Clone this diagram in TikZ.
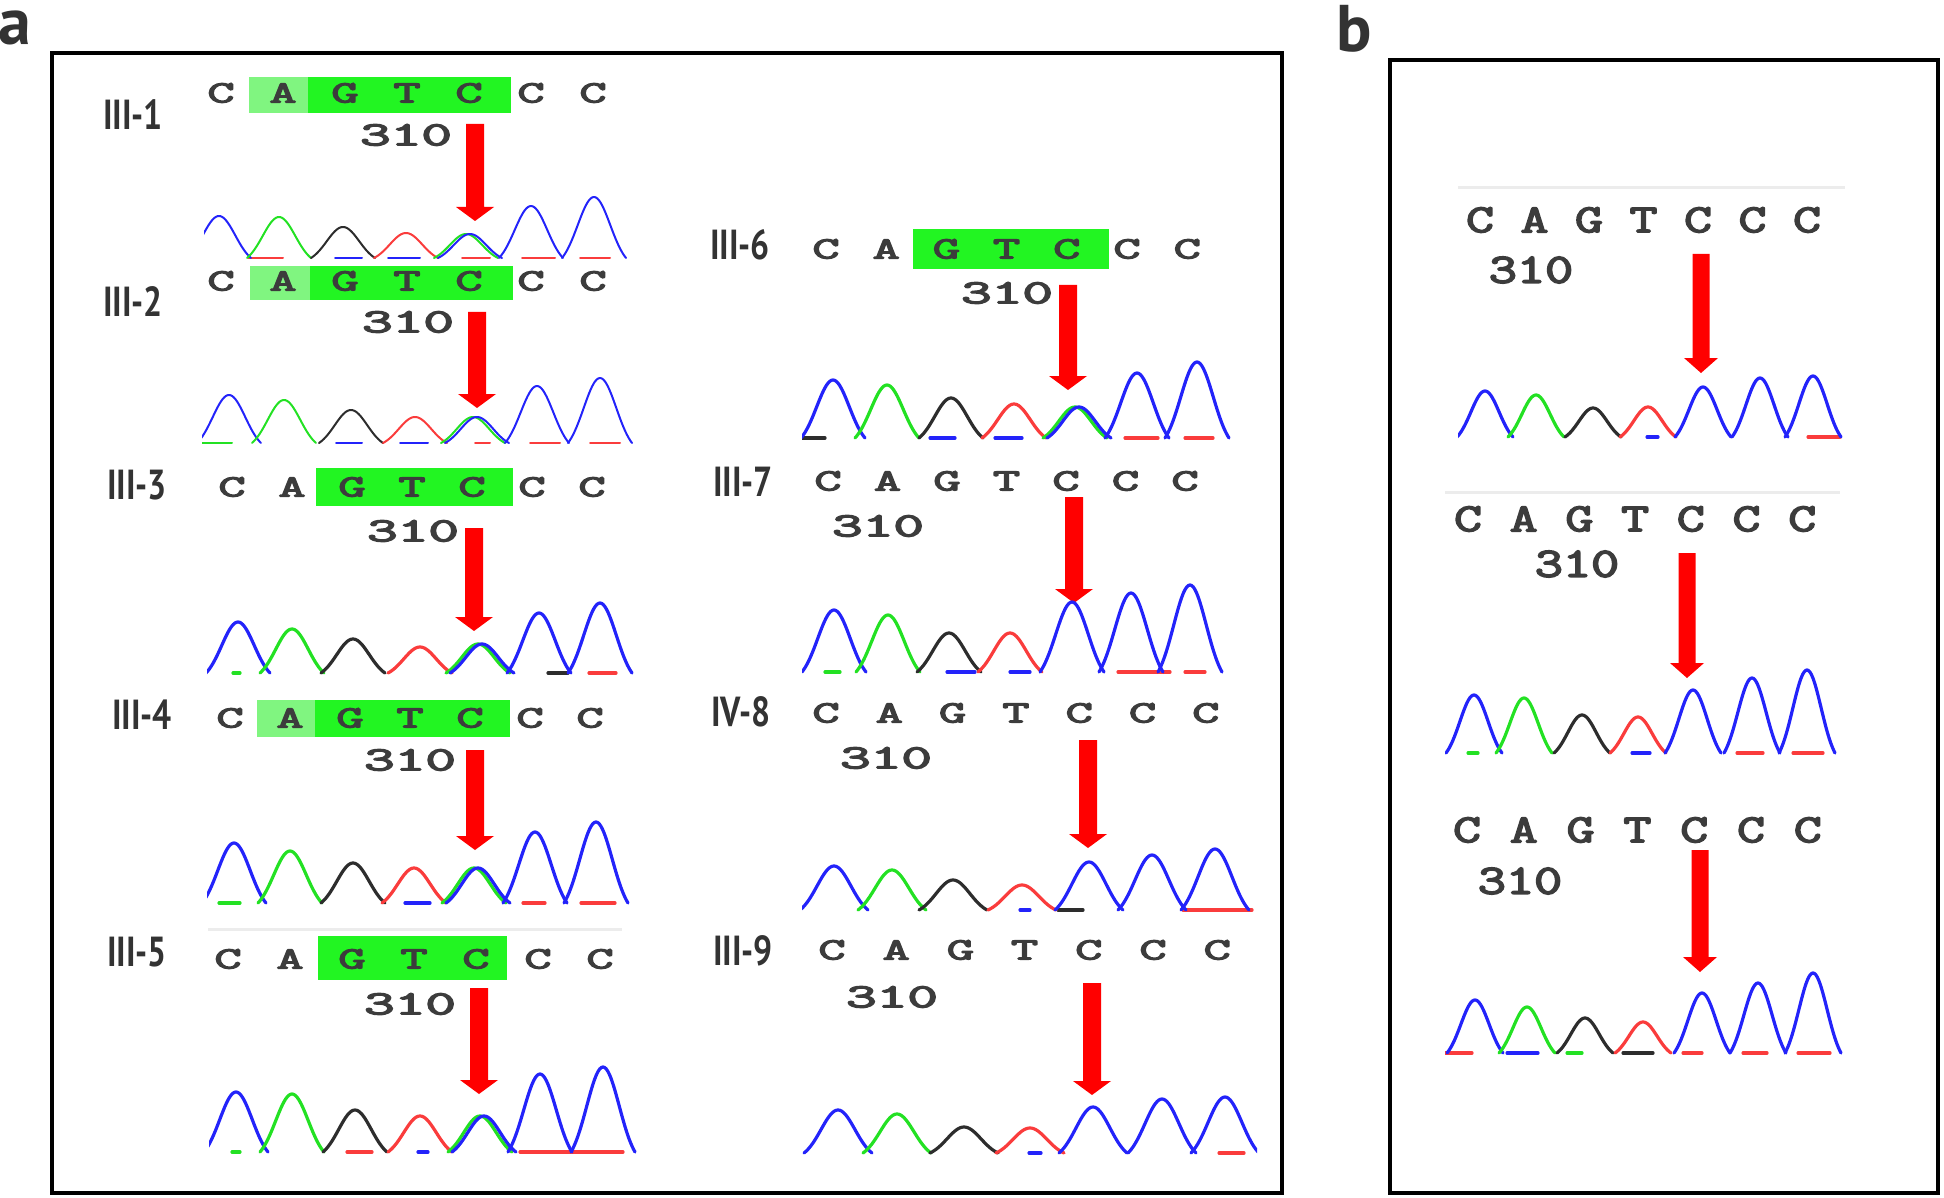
\documentclass[tikz,border=0pt]{standalone}
\usepackage{fontspec}
\newfontfamily\labfont{PT Sans}
\newfontfamily\seqfont{Latin Modern Mono}[FakeBold=3.5]

\definecolor{tblue}{RGB}{35,35,250}
\definecolor{tgreen}{RGB}{35,225,35}
\definecolor{tblack}{RGB}{45,45,45}
\definecolor{tred}{RGB}{250,60,60}
\definecolor{boxgreen}{RGB}{34,245,34}
\definecolor{boxlight}{RGB}{128,245,128}
\definecolor{seqgray}{RGB}{60,60,60}
\definecolor{labgray}{RGB}{51,51,51}

\tikzset{
  ntA/.style={inner sep=0pt, text=seqgray, font=\seqfont\fontsize{31}{31}\selectfont, xscale=1.7},
  numA/.style={inner sep=0pt, text=seqgray, font=\seqfont\fontsize{34}{34}\selectfont, xscale=1.75},
  ntB/.style={inner sep=0pt, text=seqgray, font=\seqfont\fontsize{40}{40}\selectfont, xscale=1.35},
  numB/.style={inner sep=0pt, text=seqgray, font=\seqfont\fontsize{42}{42}\selectfont, xscale=1.3},
  sample/.style={anchor=west, inner sep=0pt, text=labgray, font=\labfont\bfseries\fontsize{42}{42}\selectfont, xscale=0.8},
  panel/.style={anchor=base west, inner sep=0pt, text=labgray, font=\labfont\bfseries\fontsize{66}{66}\selectfont},
  frame/.style={draw=black, line width=4pt},
  trace/.style={line join=round, line cap=round}
}

\begin{document}
\begin{tikzpicture}[x=1pt, y=-1pt]
\useasboundingbox (0,0) rectangle (1944,1198);

% panels
\node[panel] (pa) at (-2,45) {a};
\node[panel] (pb) at (1336,52) {b};
\draw[frame] (52,53) rectangle (1282,1193);
\draw[frame] (1390,60) rectangle (1938,1193);

% faint rules above some reads
\foreach \xa/\xb/\y in {208/622/929, 1458/1845/188, 1445/1840/492}
  \draw[gray!15, line width=3pt] (\xa,\y) -- (\xb,\y);

% highlighted bases
\foreach \xa/\ya/\xb/\yb/\col in {249/77/308/113/boxlight, 308/77/511/113/boxgreen,
    250/266/310/300/boxlight, 310/266/513/300/boxgreen,
    316/468/513/506/boxgreen,
    257/700/315/737/boxlight, 315/700/510/737/boxgreen,
    318/936/507/980/boxgreen,
    913/229/1109/269/boxgreen}
  \fill[\col] (\xa,\ya) rectangle (\xb,\yb);

% sample names
\foreach \n/\xs/\y/\lab in {s1/103/115/III-1, s2/103/302/III-2, s3/107/485/III-3,
    s4/112/715/III-4, s5/107/952/III-5, s6/710/245/III-6, s7/713/482/III-7,
    s8/711/712/IV-8, s9/713/951/III-9}
  \node[sample] (\n) at (\xs,\y) {\lab};

% sequences
\foreach \r/\xs/\dx/\y in {a1/221/62/93, a2/221/62/281, a3/232/60/487, a4/230/60/718,
    a5/228/62/959, a6/826/60.2/249, a7/828/59.5/481, a8/826/63.3/713, a9/832/64.2/950}
  \foreach \ch [count=\i] in {C,A,G,T,C,C,C}
    \node[ntA] (\r-\i) at ({\xs+\dx*(\i-1)},\y) {\ch};
\foreach \r/\xs/\dx/\y in {b1/1480/54.5/220, b2/1468/55.7/519, b3/1467/56.8/830}
  \foreach \ch [count=\i] in {C,A,G,T,C,C,C}
    \node[ntB] (\r-\i) at ({\xs+\dx*(\i-1)},\y) {\ch};

% position 310
\foreach \n/\xs/\y in {n1/406/135, n2/408/322, n3/413/531, n4/410/760, n5/410/1004,
    n6/1007/293, n7/878/526, n8/886/758, n9/892/997}
  \node[numA] (\n) at (\xs,\y) {310};
\foreach \n/\xs/\y in {nb1/1531/270, nb2/1577/564, nb3/1520/881}
  \node[numB] (\n) at (\xs,\y) {310};

% red arrows
\foreach \xs/\ya/\yb in {475/124/221, 477/312/408, 474/528/631, 475/750/850, 479/988/1094,
    1068/285/390, 1074/497/603, 1088/740/848, 1092/983/1095}
  \fill[red] (\xs-9,\ya) -- (\xs+9,\ya) -- (\xs+9,\yb-14) -- (\xs+19,\yb-14) -- (\xs,\yb)
    -- (\xs-19,\yb-14) -- (\xs-9,\yb-14) -- cycle;
\foreach \xs/\ya/\yb in {1701/254/373, 1687/553/678, 1700/850/972}
  \fill[red] (\xs-8.5,\ya) -- (\xs+8.5,\ya) -- (\xs+8.5,\yb-15) -- (\xs+17,\yb-15) -- (\xs,\yb)
    -- (\xs-17,\yb-15) -- (\xs-8.5,\yb-15) -- cycle;

% chromatograms: start/end/baseline/half width/sigma/line/peaks/baseline bits
\foreach \xa/\xb/\bs/\w/\sg/\lw/\pk/\bl in {
  204/632/258/32/23/2pt/{219/42/tblue,279/41/tgreen,343/31/tblack,406/25/tred,466/24/tgreen,470/24/tblue,531/52/tblue,594/61/tblue}/{248/283/tred,335/362/tblue,388/420/tblue,462/490/tred,522/555/tred,580/610/tred},
  202/634/443/32/23/2pt/{229/48/tblue,284/43/tgreen,351/33/tblack,415/26/tred,473/26/tgreen,477/26/tblue,537/57/tblue,600/65/tblue}/{202/232/tgreen,336/362/tblue,400/428/tblue,475/490/tred,530/560/tred,590/620/tred},
  207/638/673/32/23/3.2pt/{238/51/tblue,292/44/tgreen,353/34/tblack,420/26/tred,478/29/tgreen,482/29/tblue,539/60/tblue,600/70/tblue}/{233/240/tgreen,548/568/tblack,589/616/tred},
  207/635/903/32/23/3.2pt/{234/60/tblue,290/52/tgreen,353/40/tblack,414/35/tred,474/35/tgreen,478/35/tblue,535/71/tblue,596/81/tblue}/{219/240/tgreen,405/430/tblue,523/545/tred,581/615/tred},
  209/642/1152/32/23/3.2pt/{236/60/tblue,292/58/tgreen,355/42/tblack,420/36/tred,480/36/tgreen,484/36/tblue,540/78/tblue,603/85/tblue}/{232/240/tgreen,347/372/tred,418/428/tblue,520/623/tred},
  802/1233/438/32/23/3.2pt/{833/58/tblue,887/53/tgreen,951/40/tblack,1014/34/tred,1075/31/tgreen,1079/31/tblue,1137/65/tblue,1197/76/tblue}/{802/825/tblack,930/955/tblue,995/1022/tblue,1125/1158/tred,1185/1213/tred},
  802/1229/672/32/23/3.2pt/{834/62/tblue,888/57/tgreen,949/39/tblack,1010/39/tred,1072/70/tblue,1131/79/tblue,1190/87/tblue}/{825/840/tgreen,947/975/tblue,1010/1030/tblue,1118/1170/tred,1185/1205/tred},
  802/1256/910/34/24/3.2pt/{834/44/tblue,892/40/tgreen,953/30/tblack,1022/25/tred,1089/48/tblue,1152/55/tblue,1215/61/tblue}/{1020/1030/tblue,1058/1083/tblack,1183/1252/tred},
  802/1257/1153/34/24/3.2pt/{838/43/tblue,897/39/tgreen,964/26/tblack,1030/25/tred,1093/46/tblue,1162/54/tblue,1225/56/tblue}/{1029/1041/tblue,1219/1244/tred},
  1458/1845/437/28/20/3.2pt/{1485/46/tblue,1536/42/tgreen,1593/29/tblack,1648/30/tred,1703/50/tblue,1760/59/tblue,1813/61/tblue}/{1647/1658/tblue,1808/1840/tred},
  1445/1841/753/28/20/3.2pt/{1474/58/tblue,1524/55/tgreen,1582/38/tblack,1638/36/tred,1693/63/tblue,1752/75/tblue,1807/83/tblue}/{1468/1478/tgreen,1632/1650/tblue,1737/1763/tred,1793/1823/tred},
  1445/1852/1053/28/20/3.2pt/{1475/53/tblue,1527/46/tgreen,1585/35/tblack,1643/31/tred,1702/60/tblue,1758/70/tblue,1813/80/tblue}/{1445/1472/tred,1507/1538/tblue,1567/1582/tgreen,1623/1653/tblack,1683/1702/tred,1743/1767/tred,1798/1830/tred}}
{
  \begin{scope}
    \clip (\xa,\bs-105) rectangle (\xb,\bs+4);
    \foreach \sa/\sb/\col in \bl
      \draw[trace, \col, line width=\lw] (\sa,\bs) -- (\sb,\bs);
    \pgfmathsetmacro\tail{exp(-(\w*\w)/(\sg*\sg))}
    \foreach \px/\h/\col in \pk
      \draw[trace, \col, line width=\lw] plot[domain=\px-\w:\px+\w, samples=41, smooth]
        (\x, {\bs-\h*(exp(-(\x-\px)*(\x-\px)/(\sg*\sg))-\tail)/(1-\tail)});
  \end{scope}
}
\end{tikzpicture}
\end{document}
